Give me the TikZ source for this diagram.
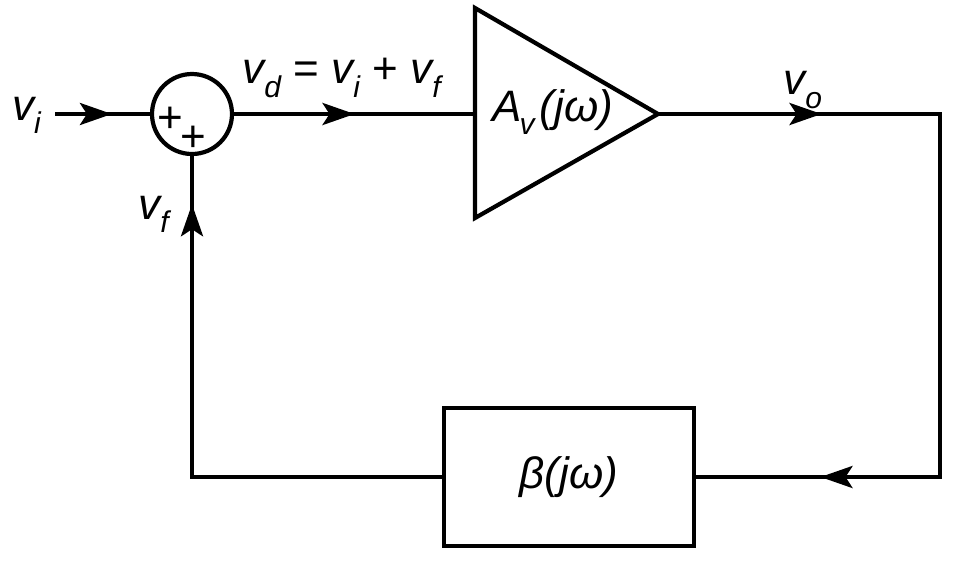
\documentclass[tikz,border=0pt]{standalone}
\usepackage{fontspec}
\setmainfont{Liberation Sans}
\usetikzlibrary{arrows.meta,decorations.markings}
\newcommand\sig[2]{\textit{#1}\kern-0.06em\raisebox{-0.3em}{\fontsize{15}{15}\selectfont\textit{#2}}}
\begin{document}
\begin{tikzpicture}[x=0.5pt,y=-0.5pt,line width=2.1pt,
  lbl/.style={font=\fontsize{22}{26}\selectfont,inner sep=0pt},
  plus/.style={font=\fontsize{22}{24}\selectfont,inner ysep=0pt,inner xsep=-1pt,text height=0.6em,text depth=-0.1em},
  arrowat/.style={postaction={decorate},decoration={markings,mark=at position #1 with {\arrow{Stealth[length=16pt,width=11pt,inset=3.5pt]}}}}]
\useasboundingbox (0,0) rectangle (980,575);
% summing junction
\node[circle,draw,minimum size=40pt,inner sep=0pt] (sum) at (192,114) {};
\node[plus] (p1) at (170,126) {+};
\node[plus] (p2) at (193,145) {+};
% amplifier
\coordinate (atl) at (475,8);
\coordinate (abl) at (475,218);
\coordinate (atip) at (658,114);
\coordinate (ain) at (475,114);
\draw[line join=miter] (atl) -- (atip) -- (abl) -- cycle;
\node[lbl] (amp) at (553,112) {\sig{A}{v}\kern0.08em\textit{(jω)}};
% feedback block
\node[draw,minimum width=125pt,minimum height=69pt,inner sep=0pt,lbl] (beta) at (569,477) {\textit{β(jω)}};
% coordinates
\coordinate (in) at (55,114);
\coordinate (c1) at (940,114);
\coordinate (c2) at (940,477);
\coordinate (c3) at (192,477);
% connectors
\draw[arrowat=0.6] (in) -- (sum.west);
\draw[arrowat=0.5] (sum.east) -- (ain);
\draw[line join=miter] (atip) -- (c1) -- (c2) -- (beta.east);
\draw[arrowat=0.58] (atip) -- (c1);
\draw[arrowat=0.49] (c2) -- (beta.east);
\draw[line join=miter] (beta.west) -- (c3) -- (sum.south);
\draw[arrowat=0.85] (c3) -- (sum.south);
% labels
\node[lbl] (lvi) at (27,115) {\sig{v}{i}};
\node[lbl] (lvd) at (343,78) {\sig{v}{d} = \sig{v}{i} + \sig{v}{f}};
\node[lbl] (lvo) at (803,90) {\sig{v}{o}};
\node[lbl] (lvf) at (155,214) {\sig{v}{f}};
\end{tikzpicture}
\end{document}
